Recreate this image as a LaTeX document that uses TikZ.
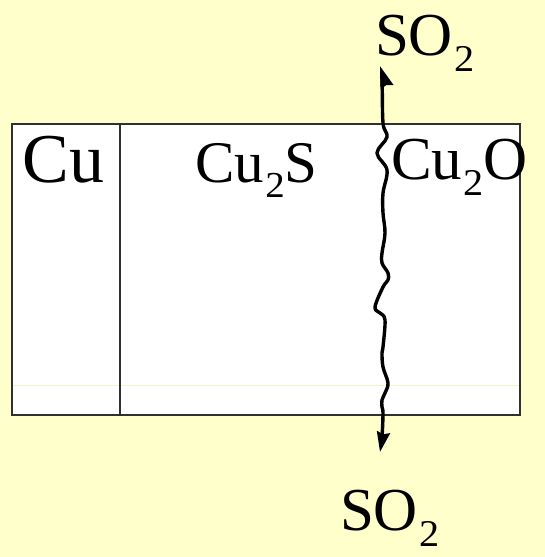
\documentclass[tikz,border=0pt]{standalone}
\usepackage{fontspec}
\setmainfont{Liberation Serif}
\usetikzlibrary{arrows.meta}
\definecolor{bgyellow}{HTML}{FFFFCC}
\definecolor{faintline}{HTML}{F4F4C8}
\definecolor{boxline}{HTML}{303030}
\newcommand{\chsub}[1]{\kern1.5pt\raisebox{-0.27em}[\height][0pt]{\scalebox{0.66}[0.62]{#1}}}
\tikzset{
  lbl/.style={anchor=base west, inner sep=0pt, outer sep=0pt},
  boxstyle/.style={draw=boxline, line width=1.4pt, fill=white},
  wave/.style={line width=3.4pt, line join=round,
    {Stealth[length=22pt,width=13pt,inset=2pt]}-{Stealth[length=20pt,width=13pt,inset=2pt]}},
}
\begin{document}
\begin{tikzpicture}[x=1pt,y=-1pt]
\fill[bgyellow] (0,0) rectangle (545,557);
\useasboundingbox (0,0) rectangle (545,557);
\draw[boxstyle] (12,124) rectangle (520,415);
\draw[faintline, line width=0.8pt] (13,385) -- (519,385);
\draw[boxline, line width=1.4pt] (120,124) -- (120,415);
\node[lbl, font=\fontsize{70}{70}\selectfont] (cu) at (23,182) {Cu};
\node[lbl, font=\fontsize{59}{59}\selectfont] (cus) at (195,182) {Cu\chsub{2}S};
\node[lbl, font=\fontsize{61}{61}\selectfont] (cuo) at (391,179) {Cu\chsub{2}O};
\node[lbl, font=\fontsize{61}{61}\selectfont] (sotop) at (375,55) {SO\chsub{2}};
\node[lbl, font=\fontsize{61}{61}\selectfont] (sobot) at (340,530) {SO\chsub{2}};
\coordinate (wtop) at (380,66);
\coordinate (wbot) at (380,452);
\draw[wave] plot[smooth, tension=0.6] coordinates {
(380,66) (382,80) (383,123) (387,137) (377,153) (387,170) (383,193) (383,213)
(385,233) (382,253) (382,263) (388,273) (388,280) (383,287) (375,307) (380,313)
(385,320) (383,347) (382,353) (383,367) (388,383) (385,393) (382,400) (382,407)
(383,413) (382,437) (380,452)};
\end{tikzpicture}
\end{document}
